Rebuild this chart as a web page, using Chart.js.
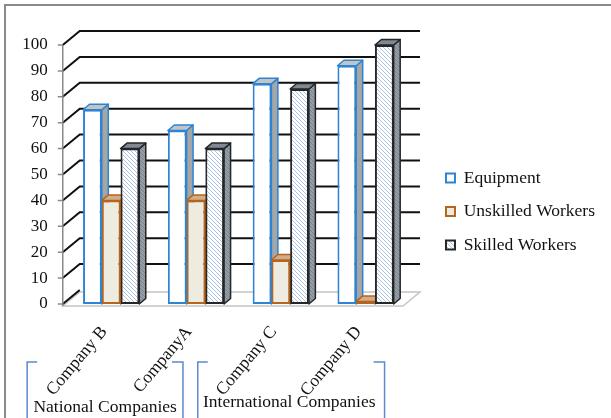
<!DOCTYPE html>
<html>
<head>
<meta charset="utf-8">
<script src="https://cdn.jsdelivr.net/npm/chart.js@4.4.0/dist/chart.umd.min.js"></script>
<style>
  html, body { margin: 0; padding: 0; background: #fff; }
  #wrap { width: 611px; height: 418px; }
</style>
</head>
<body>
<div id="wrap"><canvas id="chart" width="611" height="418"></canvas></div>
<script>
// chart values
const categories = ['Company B', 'CompanyA', 'Company C', 'Company D'];
const equipment = [75, 67, 85, 92];
const unskilled = [40, 40, 17, 1];
const skilled = [60, 60, 83, 100];
const yMin = 0, yMax = 100, yStep = 10;
const groupLabels = ['National Companies', 'International Companies'];

const FONT = "'Liberation Serif', 'Times New Roman', serif";
const DX = 17, DY = 14;      // depth of the 3D walls
const BDX = 6.5, BDY = 5.5;  // depth of each bar

const canvas = document.getElementById('chart');
const ctx = canvas.getContext('2d');

// diagonal "\" hatch, drawn pixel by pixel so it stays crisp
function hatch(bg, fg) {
    const c = document.createElement('canvas');
    c.width = 4; c.height = 4;
    const g = c.getContext('2d');
    g.fillStyle = bg;
    g.fillRect(0, 0, 4, 4);
    g.fillStyle = fg;
    for (let i = 0; i < 4; i++) g.fillRect(i, i, 1, 1);
    return ctx.createPattern(c, 'repeat');
}

// colours for the top and side faces, per dataset
const faces = [
    { top: '#C4C4C4', side: '#A6A6A6', edge: '#2E84D4' },
    { top: '#D2AE88', side: '#8C6A4A', edge: '#B5651D' },
    { top: '#7E8994', side: hatch('#939DA7', '#7A848F'), edge: '#262626' }
];

// 3D walls, gridlines, floor and bar faces
const walls = {
    id: 'walls',
    beforeDraw(chart) {
        const c = chart.ctx;
        c.save();
        c.strokeStyle = '#8A8A8A';
        c.lineWidth = 2;
        c.beginPath();
        c.moveTo(5, 418); c.lineTo(5, 5); c.lineTo(611, 5);
        c.stroke();
        c.restore();
    },
    beforeDatasetsDraw(chart) {
        const c = chart.ctx;
        const area = chart.chartArea;
        const ys = chart.scales.y;
        const fx = area.left - 6;
        const frx = area.right - 5;
        const y0 = ys.getPixelForValue(0);
        c.save();

        // floor
        c.fillStyle = '#fff';
        c.strokeStyle = '#C4C4C4';
        c.lineWidth = 1.5;
        c.beginPath();
        c.moveTo(fx, y0 + 2);
        c.lineTo(frx, y0 + 2);
        c.lineTo(frx + DX, y0 + 2 - DY);
        c.lineTo(fx + DX, y0 + 2 - DY);
        c.closePath();
        c.fill();
        c.stroke();

        // gridlines on side and back walls
        c.strokeStyle = '#111';
        c.lineWidth = 2;
        for (let v = yMin; v <= yMax; v += yStep) {
            const y = ys.getPixelForValue(v);
            c.beginPath();
            c.moveTo(fx, y);
            c.lineTo(fx + DX, y - DY);
            if (v > yMin) c.lineTo(frx + DX, y - DY);
            c.stroke();
        }

        // value axis line and ticks
        c.strokeStyle = '#8A8A8A';
        c.lineWidth = 1.5;
        c.beginPath();
        c.moveTo(fx, ys.getPixelForValue(yMax));
        c.lineTo(fx, y0 + 2);
        for (let v = yMin; v <= yMax; v += yStep) {
            const y = ys.getPixelForValue(v);
            c.moveTo(fx - 5, y);
            c.lineTo(fx, y);
        }
        c.stroke();

        // bar sides, then bar tops
        const boxes = [];
        chart.data.datasets.forEach((ds, i) => {
            chart.getDatasetMeta(i).data.forEach(bar => {
                const p = bar.getProps(['x', 'y', 'width', 'base'], true);
                boxes.push({ l: p.x - p.width / 2, r: p.x + p.width / 2, t: p.y, b: p.base, f: faces[i] });
            });
        });
        c.lineWidth = 1.5;
        c.lineJoin = 'round';
        boxes.forEach(b => {
            c.fillStyle = b.f.side;
            c.strokeStyle = b.f.edge;
            c.beginPath();
            c.moveTo(b.r, b.b);
            c.lineTo(b.r + BDX, b.b - BDY);
            c.lineTo(b.r + BDX, b.t - BDY);
            c.lineTo(b.r, b.t);
            c.closePath();
            c.fill();
            c.stroke();
        });
        boxes.forEach(b => {
            c.fillStyle = b.f.top;
            c.strokeStyle = b.f.edge;
            c.beginPath();
            c.moveTo(b.l, b.t);
            c.lineTo(b.l + BDX, b.t - BDY);
            c.lineTo(b.r + BDX, b.t - BDY);
            c.lineTo(b.r, b.t);
            c.closePath();
            c.fill();
            c.stroke();
        });
        c.restore();
    },
    afterDraw(chart) {
        // group brackets under the category labels
        const c = chart.ctx;
        const xs = chart.scales.x;
        const p = i => xs.getPixelForValue(i);
        const groups = [
            { label: groupLabels[0], l: p(0) - 84, r: p(1) - 13, tx: p(0) - 6, ty: 407 },
            { label: groupLabels[1], l: p(2) - 83, r: p(3) + 19, tx: p(2) + 8.5, ty: 402 }
        ];
        c.save();
        c.strokeStyle = '#5B8BD0';
        c.lineWidth = 1.5;
        groups.forEach(g => {
            c.beginPath();
            c.moveTo(g.l + 10, 362); c.lineTo(g.l, 362); c.lineTo(g.l, 418);
            c.moveTo(g.r - 11, 362); c.lineTo(g.r, 362); c.lineTo(g.r, 418);
            c.stroke();
        });
        c.fillStyle = '#111';
        c.font = '17.5px ' + FONT;
        c.textAlign = 'center';
        c.textBaseline = 'middle';
        groups.forEach(g => c.fillText(g.label, g.tx, g.ty));
        c.restore();
    }
};

new Chart(ctx, {
    type: 'bar',
    data: {
        labels: categories,
        datasets: [{
            label: 'Equipment',
            data: equipment,
            backgroundColor: '#FFFFFF',
            borderColor: '#2E84D4',
            borderWidth: 2,
            borderSkipped: false
        }, {
            label: 'Unskilled Workers',
            data: unskilled,
            backgroundColor: '#EEEBE1',
            borderColor: '#B5651D',
            borderWidth: 2,
            borderSkipped: false
        }, {
            label: 'Skilled Workers',
            data: skilled,
            backgroundColor: hatch('#FFFFFF', '#A9C1E2'),
            borderColor: '#262626',
            borderWidth: 2,
            borderSkipped: false
        }]
    },
    options: {
        responsive: false,
        devicePixelRatio: 1,
        animation: false,
        categoryPercentage: 0.663,
        barPercentage: 1,
        layout: { padding: { left: 20, right: 6, top: 45, bottom: 0 } },
        plugins: {
            tooltip: { enabled: false },
            legend: {
                position: 'right',
                align: 'start',
                maxWidth: 220,
                // empty title only pushes the items down
                title: { display: true, text: ' ', font: { size: 10, lineHeight: 1 }, padding: { top: 0, bottom: 98.25 } },
                labels: {
                    boxWidth: 9,
                    boxHeight: 9,
                    padding: 16,
                    color: '#111',
                    font: { family: FONT, size: 17.5 }
                }
            }
        },
        scales: {
            x: {
                grid: { display: false, drawTicks: false },
                border: { display: false },
                ticks: {
                    autoSkip: false,
                    minRotation: 50,
                    maxRotation: 50,
                    padding: 18,
                    labelOffset: -7,
                    color: '#111',
                    font: { family: FONT, size: 17.5 }
                },
                afterFit(axis) { axis.height = 114; }
            },
            y: {
                min: yMin,
                max: yMax,
                grid: { display: false, drawTicks: false },
                border: { display: false },
                ticks: {
                    stepSize: yStep,
                    padding: 21,
                    color: '#111',
                    font: { family: FONT, size: 17 }
                },
                afterFit(axis) { axis.width = 48.75; }
            },
            yr: {
                position: 'right',
                display: true,
                grid: { display: false, drawTicks: false },
                border: { display: false },
                ticks: { display: false },
                afterFit(axis) { axis.width = 22; }
            }
        }
    },
    plugins: [walls]
});
</script>
</body>
</html>
